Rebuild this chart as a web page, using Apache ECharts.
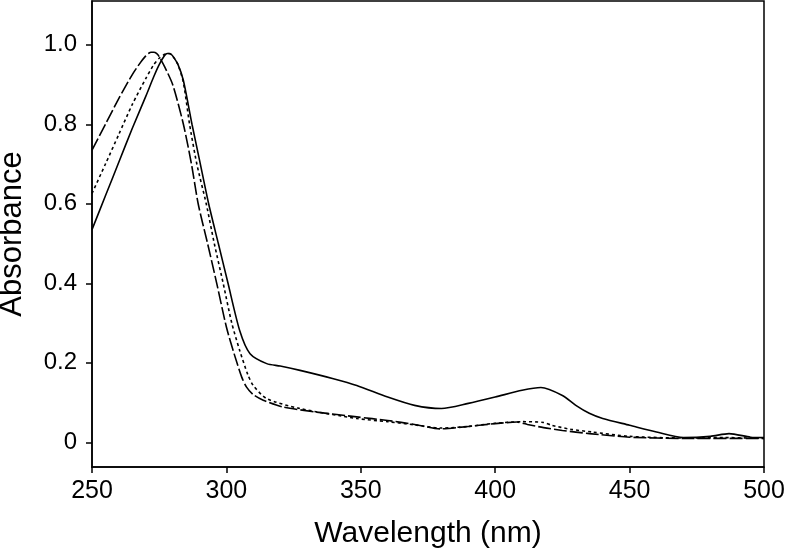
<!DOCTYPE html>
<html>
<head>
<meta charset="utf-8">
<script src="https://cdn.jsdelivr.net/npm/echarts@6/dist/echarts.min.js"></script>
<style>html,body{margin:0;padding:0;background:#fff}#c{width:788px;height:552px}</style>
</head>
<body>
<div id="c"></div>
<script>
// Solid spectrum
const solidWl  = [250,255,260,265,270,273,275,277,278,279,280,282,284,287.2,290,293.4,297,300.6,305,308.8,315,320,327.4,339.8,348.5,360,370,380,390,400,410,417,425,430,435,440,450,460,470,480,487,495,500];
const solidAbs = [0.535,0.62,0.705,0.79,0.87,0.92,0.95,0.973,0.978,0.978,0.972,0.95,0.91,0.80,0.71,0.60,0.50,0.40,0.28,0.223,0.198,0.192,0.181,0.16,0.143,0.114,0.093,0.085,0.098,0.114,0.131,0.138,0.118,0.093,0.073,0.060,0.043,0.026,0.012,0.015,0.022,0.013,0.012];
// Dotted spectrum
const dotWl  = [250,255,260,265,270,273,275,277,278,279,280,282,284,286.3,289,292.5,295.5,298.8,302,305,308,310,315,327.4,348.5,360,370,380,390,400,410,418,421,428,436,450,470,485,500];
const dotAbs = [0.626,0.70,0.775,0.85,0.915,0.95,0.966,0.976,0.978,0.977,0.972,0.95,0.905,0.80,0.70,0.60,0.50,0.40,0.30,0.23,0.17,0.143,0.11,0.085,0.06,0.052,0.044,0.036,0.040,0.048,0.052,0.050,0.043,0.033,0.026,0.015,0.011,0.012,0.010];
// Long-dash spectrum
const dashWl  = [250,255,260,265,268,270,271,272,273,274,275,277,280,284,287,289.5,293,296.4,300,303,305.7,307.5,310,313.7,321,333.6,348.5,360,370,379.5,390,400,408,412,418,425,435,450,470,500];
const dashAbs = [0.735,0.80,0.865,0.925,0.955,0.972,0.978,0.981,0.981,0.978,0.97,0.945,0.90,0.80,0.70,0.60,0.50,0.40,0.29,0.22,0.164,0.139,0.12,0.106,0.089,0.076,0.064,0.055,0.045,0.034,0.040,0.047,0.051,0.045,0.037,0.030,0.022,0.013,0.010,0.010];

const xTicks = [250,300,350,400,450,500];
const yTicks = [0,0.2,0.4,0.6,0.8,1.0];

function pairs(xs, ys){ return xs.map((x,i)=>[x,ys[i]]); }

const FONT = 'Liberation Sans, Arial, sans-serif';
const chart = echarts.init(document.getElementById('c'), null, {renderer:'canvas'});
const lineBase = {type:'line', showSymbol:false, symbol:'none', smooth:0.25, animation:false};
chart.setOption({
  animation:false,
  backgroundColor:'#fff',
  grid:{left:92, right:24, top:1, bottom:85, containLabel:false, outerBoundsMode:'none',
        show:true, borderColor:'#000', borderWidth:1.5, backgroundColor:'transparent'},
  xAxis:{
    type:'value', min:250, max:500, interval:50,
    name:'Wavelength (nm)', nameLocation:'middle', nameGap:52,
    nameTextStyle:{fontFamily:FONT, fontSize:30, color:'#000'},
    axisLine:{show:true, onZero:false, lineStyle:{color:'#000', width:1.5}},
    axisTick:{show:true, inside:false, length:6, lineStyle:{color:'#000', width:1.5}, customValues:xTicks},
    axisLabel:{fontFamily:FONT, fontSize:25, color:'#000', margin:12, customValues:xTicks},
    splitLine:{show:false}
  },
  yAxis:{
    type:'value', min:-0.062, max:1.11,
    name:'Absorbance', nameLocation:'middle', nameGap:64, nameRotate:90,
    nameTextStyle:{fontFamily:FONT, fontSize:31, color:'#000'},
    axisLine:{show:true, onZero:false, lineStyle:{color:'#000', width:1.5}},
    axisTick:{show:true, inside:false, length:6, lineStyle:{color:'#000', width:1.5}, customValues:yTicks},
    axisLabel:{fontFamily:FONT, fontSize:24, color:'#000', margin:15, customValues:yTicks,
      formatter:v => (Math.abs(v) < 1e-9 ? '0' : v.toFixed(1))},
    splitLine:{show:false}
  },
  series:[
    Object.assign({}, lineBase, {name:'solid', data:pairs(solidWl, solidAbs), lineStyle:{color:'#000', width:1.6, type:'solid'}}),
    Object.assign({}, lineBase, {name:'dotted', data:pairs(dotWl, dotAbs), lineStyle:{color:'#000', width:1.6, type:[3,3]}}),
    Object.assign({}, lineBase, {name:'dash', data:pairs(dashWl, dashAbs), lineStyle:{color:'#000', width:1.6, type:[13,3]}})
  ]
});
</script>
</body>
</html>
